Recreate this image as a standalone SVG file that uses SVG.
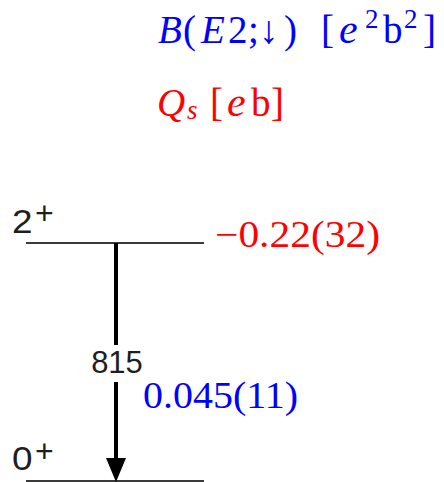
<svg xmlns="http://www.w3.org/2000/svg" width="444" height="482" viewBox="0 0 444 482">
<style>
.m{font-family:"Liberation Serif","DejaVu Serif",serif;font-size:39px}
.i{font-style:italic}
.sup{font-size:27px}
.ee{font-size:42px}
.blue{fill:#0000ff}
.red{fill:#ff0000}
.lab{font-family:"Liberation Sans",Arial,sans-serif;fill:#1e1e1e}
.big{font-size:32px}
.lvl{stroke:#3a3a3a;stroke-width:2}
.tr{stroke:#000;stroke-width:4}
</style>
<defs>
<marker id="ah" markerUnits="userSpaceOnUse" markerWidth="24" markerHeight="22" refX="2" refY="10" orient="auto" viewBox="0 0 24 20">
<polygon points="0,0 24,10 0,20" fill="#000"/>
</marker>
</defs>
<g id="legend">
<text class="m blue" y="43"><tspan class="i" x="158">B</tspan><tspan x="183">(</tspan><tspan class="i" x="201">E</tspan><tspan x="228">2</tspan><tspan x="248">;</tspan><tspan x="259">↓</tspan><tspan x="284">)</tspan><tspan x="321">[</tspan><tspan class="i ee" x="339">e</tspan><tspan class="sup" x="365" y="28">2</tspan><tspan x="383" y="43">b</tspan><tspan class="sup" x="404" y="28">2</tspan><tspan x="423" y="43">]</tspan></text>
<text class="m red" y="116"><tspan class="i" x="157">Q</tspan><tspan class="i sup" x="187" y="119">s</tspan><tspan x="210" y="116">[</tspan><tspan class="i ee" x="227">e</tspan><tspan x="251">b</tspan><tspan x="271">]</tspan></text>
</g>
<g id="level-2plus">
<line class="lvl" x1="26" y1="243" x2="204" y2="243"/>
<text class="lab" transform="translate(12,233) scale(1.12,1)" style="font-size:33px">2</text>
<text class="lab big" x="35" y="224">+</text>
<text class="m red" x="215" y="247" style="font-size:37px" textLength="165" lengthAdjust="spacingAndGlyphs">−0.22(32)</text>
</g>
<g id="level-0plus">
<line class="lvl" x1="26" y1="481" x2="204" y2="481"/>
<text class="lab" transform="translate(12,470) scale(1.12,1)" style="font-size:33px">0</text>
<text class="lab big" x="35" y="462">+</text>
</g>
<g id="connectors">
<line class="tr" x1="116" y1="243" x2="116" y2="345"/>
<line class="tr" x1="116" y1="382" x2="116" y2="460" marker-end="url(#ah)"/>
<text class="lab" x="117" y="373" style="font-size:31px" text-anchor="middle">815</text>
<text class="m blue" x="143" y="408" style="font-size:37px" textLength="155" lengthAdjust="spacingAndGlyphs">0.045(11)</text>
</g>
</svg>
